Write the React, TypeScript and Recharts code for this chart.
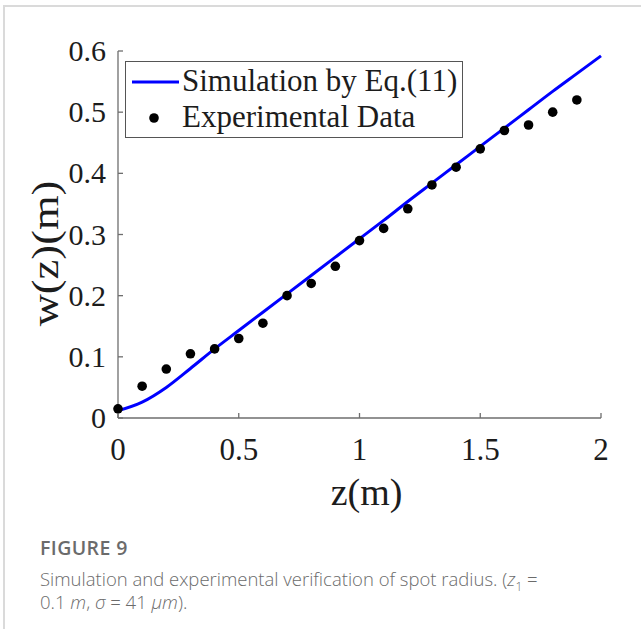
import { ComposedChart, Legend, Line, Scatter, XAxis, YAxis } from "recharts";

// simulated spot radius
const simZ = [0, 0.1, 0.2, 0.3, 0.4, 0.5, 0.6, 0.7, 0.8, 0.9, 1, 1.1, 1.2, 1.3, 1.4, 1.5, 1.6, 1.7, 1.8, 1.9, 2];
const simW = [0.012, 0.026, 0.05, 0.081, 0.113, 0.143, 0.173, 0.203, 0.233, 0.263, 0.293, 0.323, 0.354, 0.384, 0.414, 0.444, 0.474, 0.504, 0.534, 0.563, 0.592];

// measured points
const expZ = [0, 0.1, 0.2, 0.3, 0.4, 0.5, 0.6, 0.7, 0.8, 0.9, 1, 1.1, 1.2, 1.3, 1.4, 1.5, 1.6, 1.7, 1.8, 1.9];
const expW = [0.015, 0.052, 0.08, 0.105, 0.113, 0.13, 0.155, 0.2, 0.22, 0.248, 0.29, 0.31, 0.342, 0.381, 0.41, 0.44, 0.47, 0.479, 0.5, 0.52];

const xTicks = [0, 0.5, 1, 1.5, 2];
const xTickLabels = ["0", "0.5", "1", "1.5", "2"];
const yTicks = [0, 0.1, 0.2, 0.3, 0.4, 0.5, 0.6];
const yTickLabels = ["0", "0.1", "0.2", "0.3", "0.4", "0.5", "0.6"];

const seriesNames = ["Simulation by Eq.(11)", "Experimental Data"];

const simData = simZ.map((z, i) => ({ z, w: simW[i] }));
const expData = expZ.map((z, i) => ({ z, w: expW[i] }));

const SERIF = '"Liberation Serif", "Times New Roman", serif';
const SANS = '"Open Sans", "Noto Sans", sans-serif';
const BOX = "#6e6e6e";
const INK = "#1c1c1c";
const TICK_LEN = 5;

function BottomTick({ x, y, payload }: any) {
  const label = xTickLabels[xTicks.indexOf(payload.value)];
  return (
    <g>
      <line x1={x} y1={y} x2={x} y2={y - TICK_LEN} stroke={BOX} strokeWidth={1.3} />
      <text x={x} y={y + 42} textAnchor="middle" fontFamily={SERIF} fontSize={31} fill={INK}>
        {label}
      </text>
    </g>
  );
}

function LeftTick({ x, y, payload }: any) {
  const label = yTickLabels[yTicks.indexOf(payload.value)];
  return (
    <g>
      <line x1={x} y1={y} x2={x + TICK_LEN} y2={y} stroke={BOX} strokeWidth={1.3} />
      <text x={x - 12} y={y + 10} textAnchor="end" fontFamily={SERIF} fontSize={30} fill={INK}>
        {label}
      </text>
    </g>
  );
}

function TopTick({ x, y }: any) {
  return <line x1={x} y1={y} x2={x} y2={y + TICK_LEN} stroke={BOX} strokeWidth={1.3} />;
}

function RightTick({ x, y }: any) {
  return <line x1={x} y1={y} x2={x - TICK_LEN} y2={y} stroke={BOX} strokeWidth={1.3} />;
}

function XTitle({ viewBox }: any) {
  const cx = viewBox.x + viewBox.width / 2 + 7;
  return (
    <text x={cx} y={505} textAnchor="middle" fontFamily={SERIF} fontSize={38} fill={INK}>
      z(m)
    </text>
  );
}

function YTitle({ viewBox }: any) {
  const cy = viewBox.y + viewBox.height / 2 + 19;
  return (
    <text
      transform={`translate(45, ${cy}) rotate(-90) scale(1.17, 1)`}
      textAnchor="middle"
      dominantBaseline="central"
      fontFamily={SERIF}
      fontSize={38}
      fill={INK}
    >
      w(z)(m)
    </text>
  );
}

function Dot({ cx, cy }: any) {
  return <circle cx={cx} cy={cy} r={4.8} fill="#000" />;
}

function LegendBox() {
  return (
    <div
      style={{
        position: "relative",
        width: 338,
        height: 77,
        boxSizing: "border-box",
        border: "1.3px solid #555",
        background: "#fff",
        fontFamily: SERIF,
        fontSize: 31,
        color: INK,
      }}
    >
      <svg width={56} height={77} style={{ position: "absolute", left: 0, top: 0 }}>
        <line x1={6} y1={20} x2={53} y2={20} stroke="#0000ff" strokeWidth={3} />
        <circle cx={28} cy={56} r={4.8} fill="#000" />
      </svg>
      <div style={{ position: "absolute", left: 56, top: 1, lineHeight: "36px", whiteSpace: "nowrap" }}>
        {seriesNames[0]}
      </div>
      <div style={{ position: "absolute", left: 56, top: 37, lineHeight: "36px", whiteSpace: "nowrap" }}>
        {seriesNames[1]}
      </div>
    </div>
  );
}

export default function App() {
  return (
    <div
      style={{
        position: "absolute",
        left: 0,
        top: 0,
        width: 641,
        height: 629,
        overflow: "hidden",
        background: "#fff",
      }}
    >
      <div
        style={{
          position: "absolute",
          left: 3,
          top: 5,
          width: 800,
          height: 800,
          border: "2px solid #dadada",
        }}
      />
      <div style={{ position: "absolute", left: 0, top: 0 }}>
        <ComposedChart width={641} height={530} margin={{ top: 51, right: 40, bottom: 0, left: 0 }}>
          <XAxis
            xAxisId="b"
            dataKey="z"
            type="number"
            domain={[0, 2]}
            ticks={xTicks}
            height={112}
            tickSize={0}
            tickMargin={0}
            tickLine={false}
            tick={<BottomTick />}
            axisLine={{ stroke: BOX, strokeWidth: 1.3 }}
            label={<XTitle />}
          />
          <XAxis
            xAxisId="t"
            orientation="top"
            dataKey="z"
            type="number"
            domain={[0, 2]}
            ticks={xTicks}
            height={0}
            tickSize={0}
            tickMargin={0}
            tickLine={false}
            tick={<TopTick />}
            axisLine={{ stroke: BOX, strokeWidth: 1.3 }}
          />
          <YAxis
            yAxisId="l"
            type="number"
            domain={[0, 0.6]}
            ticks={yTicks}
            width={118}
            tickSize={0}
            tickMargin={0}
            tickLine={false}
            tick={<LeftTick />}
            axisLine={{ stroke: BOX, strokeWidth: 1.3 }}
            label={<YTitle />}
          />
          <YAxis
            yAxisId="r"
            orientation="right"
            type="number"
            domain={[0, 0.6]}
            ticks={yTicks}
            width={0}
            tickSize={0}
            tickMargin={0}
            tickLine={false}
            tick={<RightTick />}
            axisLine={{ stroke: BOX, strokeWidth: 1.3 }}
          />
          <Line
            xAxisId="b"
            yAxisId="l"
            data={simData}
            dataKey="w"
            name={seriesNames[0]}
            type="monotone"
            stroke="#0000ff"
            strokeWidth={3}
            dot={false}
            isAnimationActive={false}
          />
          <Scatter
            xAxisId="b"
            yAxisId="l"
            data={expData}
            dataKey="w"
            name={seriesNames[1]}
            fill="#000"
            shape={<Dot />}
            isAnimationActive={false}
          />
          <Legend
            layout="vertical"
            align="center"
            verticalAlign="middle"
            wrapperStyle={{ left: 125, top: 61, width: 338, height: 77 }}
            content={() => <LegendBox />}
          />
        </ComposedChart>
      </div>
      <div
        style={{
          position: "absolute",
          left: 40,
          top: 536,
          fontFamily: SANS,
          color: "#6b6b6b",
        }}
      >
        <div style={{ fontSize: 19.5, fontWeight: 600, lineHeight: "24px", letterSpacing: 0.4 }}>FIGURE 9</div>
        <div style={{ fontSize: 18.5, fontWeight: 300, lineHeight: "23px", marginTop: 7 }}>
          Simulation and experimental verification of spot radius. (<i>z</i>
          <sub style={{ fontSize: 12, lineHeight: 0 }}>1</sub> =
          <br />
          0.1 <i>m</i>, <i>σ</i> = 41 <i>μm</i>).
        </div>
      </div>
    </div>
  );
}
